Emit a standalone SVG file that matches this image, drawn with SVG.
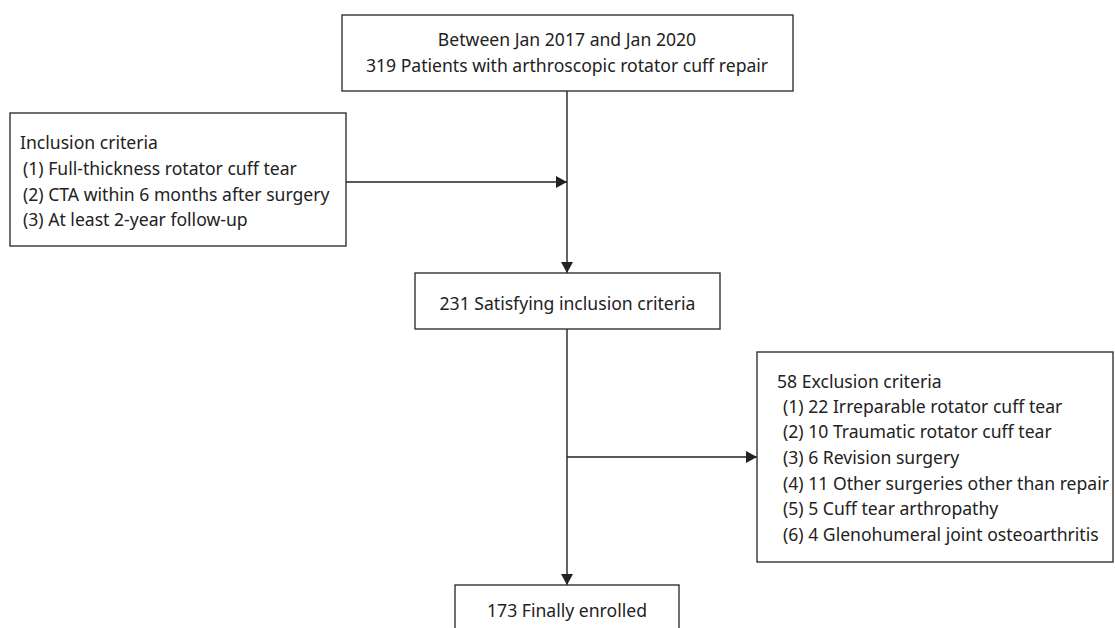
<svg xmlns="http://www.w3.org/2000/svg" width="1115" height="628" viewBox="0 0 1115 628">
<defs>
<marker id="arr" markerWidth="11" markerHeight="12" refX="11" refY="6" orient="auto" markerUnits="userSpaceOnUse">
<path d="M0,0 L11,6 L0,12 Z" fill="#222"/>
</marker>
<style>
.box{fill:#fff;stroke:#333;stroke-width:1.4}
.t{font-family:"Noto Sans","Open Sans",sans-serif;font-size:17.6px;fill:#222}
.c{text-anchor:middle}
.ln{stroke:#222;stroke-width:1.4;fill:none}
</style>
</defs>
<rect width="1115" height="628" fill="#fff"/>
<g id="connectors">
<line class="ln" x1="567" y1="91" x2="567" y2="273" marker-end="url(#arr)"/>
<line class="ln" x1="346" y1="182" x2="567" y2="182" marker-end="url(#arr)"/>
<line class="ln" x1="567" y1="329" x2="567" y2="585" marker-end="url(#arr)"/>
<line class="ln" x1="567" y1="457" x2="757" y2="457" marker-end="url(#arr)"/>
</g>
<g id="top">
<rect class="box" x="342" y="15" width="451" height="76"/>
<text class="t c" x="567" y="46">Between Jan 2017 and Jan 2020</text>
<text class="t c" x="567" y="72">319 Patients with arthroscopic rotator cuff repair</text>
</g>
<g id="inclusion">
<rect class="box" x="10" y="113" width="336" height="133"/>
<text class="t" x="20" y="149">Inclusion criteria</text>
<text class="t" x="23" y="175">(1) Full-thickness rotator cuff tear</text>
<text class="t" x="23" y="201">(2) CTA within 6 months after surgery</text>
<text class="t" x="23" y="226">(3) At least 2-year follow-up</text>
</g>
<g id="satisfying">
<rect class="box" x="415" y="273" width="305" height="56"/>
<text class="t c" x="567.5" y="310">231 Satisfying inclusion criteria</text>
</g>
<g id="exclusion">
<rect class="box" x="757" y="352" width="356" height="210"/>
<text class="t" x="777" y="388">58 Exclusion criteria</text>
<text class="t" x="783" y="413">(1) 22 Irreparable rotator cuff tear</text>
<text class="t" x="783" y="438">(2) 10 Traumatic rotator cuff tear</text>
<text class="t" x="783" y="464">(3) 6 Revision surgery</text>
<text class="t" x="783" y="490">(4) 11 Other surgeries other than repair</text>
<text class="t" x="783" y="515">(5) 5 Cuff tear arthropathy</text>
<text class="t" x="783" y="541">(6) 4 Glenohumeral joint osteoarthritis</text>
</g>
<g id="enrolled">
<rect class="box" x="455" y="585" width="224" height="60"/>
<text class="t c" x="567" y="617">173 Finally enrolled</text>
</g>
</svg>
